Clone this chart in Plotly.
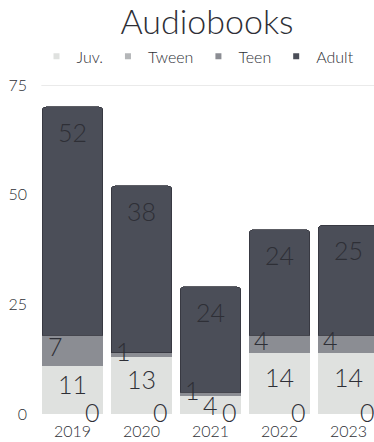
import plotly.graph_objects as go

# Audiobook circulation by audience, per year
years = ["2019", "2020", "2021", "2022", "2023"]
juv = [11, 13, 4, 14, 14]
tween = [0, 0, 0, 0, 0]
teen = [7, 1, 1, 4, 4]
adult = [52, 38, 24, 24, 25]
y_ticks = [0, 25, 50, 75]

series_names = ["Juv.", "Tween", "Teen", "Adult"]
colors = {"Juv.": "#dfe1df", "Tween": "#b4b6b8", "Teen": "#8b8d93", "Adult": "#4b4e58"}

FONT = "Lato"
TEXT = "#2e2f36"

fig = go.Figure()

# stacked bars (Tween sits on the baseline, then Juv, Teen, Adult)
stack = [("Tween", tween), ("Juv.", juv), ("Teen", teen), ("Adult", adult)]
for name, vals in stack:
    fig.add_trace(go.Bar(
        x=years, y=vals, name=name, showlegend=False,
        marker=dict(color=colors[name],
                    line=dict(width=0.8 if name == "Adult" else 0, color="#33353d")),
        hoverinfo="skip",
    ))

# small square legend markers
for name in series_names:
    fig.add_trace(go.Scatter(
        x=[None], y=[None], mode="markers", name=name,
        marker=dict(symbol="square", size=6, color=colors[name]),
    ))

# value labels placed from the stacked totals (x is the category index)
ann = []
for i, yr in enumerate(years):
    j = juv[i] + tween[i]
    t = j + teen[i]
    a = t + adult[i]
    lab = dict(x=i, xref="x", yref="y", showarrow=False,
               font=dict(family=FONT, size=25, color=TEXT, weight=300))
    ann.append(dict(lab, text=str(adult[i]), y=a, yanchor="top", yshift=-8))
    ann.append(dict(lab, text=str(teen[i]), y=t - teen[i] / 2, xanchor="left",
                    xshift=-27, yshift=4))
    ann.append(dict(lab, text=str(juv[i]), y=j / 2, yshift=6 if juv[i] > 8 else 0))
    ann.append(dict(lab, text=str(tween[i]), y=tween[i], yanchor="middle",
                    xanchor="right", xshift=29, yshift=2))

fig.update_layout(
    width=374, height=442,
    margin=dict(l=38, r=0, t=85, b=28, autoexpand=False),
    paper_bgcolor="white", plot_bgcolor="white",
    barmode="stack", bargap=0.12, barcornerradius=4,
    title=dict(text="Audiobooks", x=207 / 374, xanchor="center", xref="container",
               y=0.95, yanchor="middle",
               font=dict(family=FONT, size=34, color="#2e2f36", weight=300)),
    legend=dict(orientation="h", traceorder="normal", x=(198 - 38) / 336, xanchor="center",
                xref="paper", y=1.087, yanchor="middle",
                font=dict(family=FONT, size=16, color="#2e2f36", weight=300),
                itemwidth=30, tracegroupgap=0),
    xaxis=dict(type="category", range=[-0.5, 4.37], showgrid=False, zeroline=False,
               showline=False, ticks="", tickangle=0,
               tickfont=dict(family=FONT, size=16, color="#2e2f36", weight=300),
               ticklabelstandoff=6),
    yaxis=dict(range=[0, max(y_ticks)], tickvals=y_ticks, showgrid=False, zeroline=False,
               showline=False, ticks="", ticklabelstandoff=10,
               tickfont=dict(family=FONT, size=16, color="#2e2f36", weight=300)),
    annotations=ann,
    shapes=[dict(type="line", xref="paper", yref="y", x0=0.01, x1=1,
                 y0=max(y_ticks), y1=max(y_ticks), line=dict(color="#e3e3e3", width=1.5),
                 layer="below")],
    showlegend=True,
)

fig.write_html("out.html")
